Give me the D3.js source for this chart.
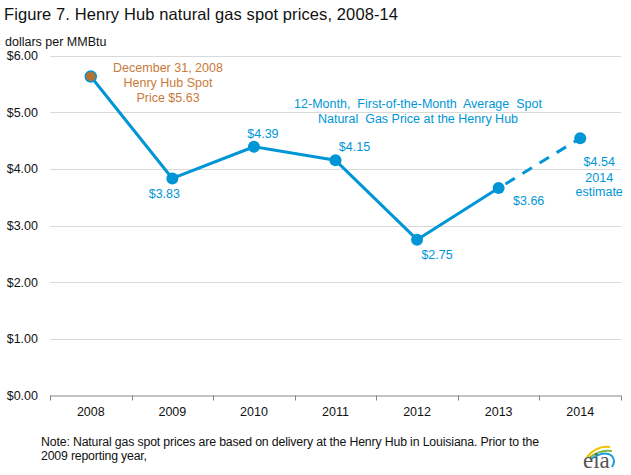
<!DOCTYPE html>
<html>
<head>
<meta charset="utf-8">
<script src="https://cdn.jsdelivr.net/npm/d3@7/dist/d3.min.js"></script>
<style>
  html, body { margin: 0; padding: 0; background: #fff; }
  svg { display: block; font-family: "Liberation Sans", Arial, sans-serif; }
</style>
</head>
<body>
<svg id="chart" width="631" height="475"></svg>
<script>
// ---- data ----
const years = ["2008", "2009", "2010", "2011", "2012", "2013", "2014"];
const prices = [5.63, 3.83, 4.39, 4.15, 2.75, 3.66, 4.54];
const priceLabels = ["", "$3.83", "$4.39", "$4.15", "$2.75", "$3.66", "$4.54"];
const yTicks = [0, 1, 2, 3, 4, 5, 6];
const estimateIndex = 6; // 2014 is an estimate

const title = "Figure 7. Henry Hub natural gas spot prices, 2008-14";
const unitLabel = "dollars per MMBtu";
const spotNote = ["December 31, 2008", "Henry Hub Spot", "Price $5.63"];
const seriesNote = ["12-Month,  First-of-the-Month  Average  Spot", "Natural  Gas Price at the Henry Hub"];
const estimateNote = ["2014", "estimate"];
const footnote = ["Note: Natural gas spot prices are based on delivery at the Henry Hub in Louisiana. Prior to the", "2009 reporting year,"];

// ---- layout ----
const svg = d3.select("#chart");
const mLeft = 50, mRight = 621, mTop = 55.5, mBottom = 395.5;
const blue = "#0096d6", orange = "#c97a3a", dotOrange = "#b8712f";

const x = d3.scaleBand().domain(years).range([mLeft, mRight]).paddingInner(0).paddingOuter(0);
const y = d3.scaleLinear().domain([0, 6]).range([mBottom, mTop]);
const cx = d => x(d) + x.bandwidth() / 2;

// title
svg.append("text").attr("x", 4).attr("y", 20).attr("font-size", 16.5).attr("fill", "#111")
  .attr("letter-spacing", 0.1).text(title);
svg.append("text").attr("x", 5).attr("y", 46).attr("font-size", 12.5).attr("fill", "#111").text(unitLabel);

// gridlines
svg.append("g").selectAll("line").data(yTicks.filter(d => d > 0)).join("line")
  .attr("x1", mLeft).attr("x2", mRight)
  .attr("y1", d => Math.round(y(d)) + 0.5).attr("y2", d => Math.round(y(d)) + 0.5)
  .attr("stroke", "#d9d9d9").attr("stroke-width", 1);

// y labels
svg.append("g").selectAll("text").data(yTicks).join("text")
  .attr("x", 38).attr("y", d => y(d)).attr("dy", "0.36em")
  .attr("text-anchor", "end").attr("font-size", 12.5).attr("fill", "#111")
  .text(d => "$" + d.toFixed(2));

// x axis
const xAxis = d3.axisBottom(x).tickSize(0).tickFormat(d => d);
const gx = svg.append("g").attr("transform", `translate(0,${mBottom})`).call(xAxis);
gx.select(".domain").attr("stroke", "#868686").attr("d", `M${mLeft},0.5H${mRight}`);
gx.selectAll(".tick text").attr("font-size", 12.5).attr("fill", "#111")
  .attr("font-family", '"Liberation Sans", Arial, sans-serif').attr("y", 12).attr("dy", "0.71em");
// boundary ticks
const bounds = years.map(d => x(d)).concat([mRight]);
gx.append("g").selectAll("line").data(bounds).join("line")
  .attr("x1", d => Math.round(d) + 0.5).attr("x2", d => Math.round(d) + 0.5)
  .attr("y1", 0).attr("y2", 5).attr("stroke", "#868686");

// lines
const pts = years.map((yr, i) => ({ yr, v: prices[i], i }));
const line = d3.line().x(d => cx(d.yr)).y(d => y(d.v));
svg.append("path").datum(pts.slice(0, estimateIndex))
  .attr("d", line).attr("fill", "none").attr("stroke", blue).attr("stroke-width", 3)
  .attr("stroke-linejoin", "round");
svg.append("path").datum(pts.slice(estimateIndex - 1))
  .attr("d", line).attr("fill", "none").attr("stroke", blue).attr("stroke-width", 3)
  .attr("stroke-dasharray", "11,9").attr("stroke-dashoffset", -8);

// dots
svg.append("g").selectAll("circle").data(pts).join("circle")
  .attr("cx", d => cx(d.yr)).attr("cy", d => y(d.v)).attr("r", d => d.i === 0 ? 5.5 : 6)
  .attr("fill", d => d.i === 0 ? dotOrange : blue)
  .attr("stroke", blue).attr("stroke-width", d => d.i === 0 ? 1.5 : 0);

// value labels
const labelOffsets = [null, [-8, 20], [9, -9], [19, -9.5], [20, 19.5], [30, 17], [19, 28]];
svg.append("g").selectAll("text").data(pts.filter(d => priceLabels[d.i])).join("text")
  .attr("x", d => cx(d.yr) + labelOffsets[d.i][0])
  .attr("y", d => y(d.v) + labelOffsets[d.i][1])
  .attr("text-anchor", "middle").attr("font-size", 12.5).attr("fill", blue)
  .text(d => priceLabels[d.i]);

// estimate note
svg.append("g").selectAll("text").data(estimateNote).join("text")
  .attr("x", cx(years[estimateIndex]) + 19).attr("y", (d, i) => y(prices[estimateIndex]) + 44 + i * 14)
  .attr("text-anchor", "middle").attr("font-size", 12.5).attr("fill", blue).text(d => d);

// spot note
svg.append("g").selectAll("text").data(spotNote).join("text")
  .attr("x", 168).attr("y", (d, i) => 72 + i * 15)
  .attr("text-anchor", "middle").attr("font-size", 12.5).attr("fill", orange)
  .style("white-space", "pre").attr("xml:space", "preserve").text(d => d);

// series note
svg.append("g").selectAll("text").data(seriesNote).join("text")
  .attr("x", 418).attr("y", (d, i) => 108 + i * 15)
  .attr("text-anchor", "middle").attr("font-size", 12.5).attr("fill", blue)
  .style("white-space", "pre").attr("xml:space", "preserve").text(d => d);

// footnote
const footWidths = [498, 106];
svg.append("g").selectAll("text").data(footnote).join("text")
  .attr("x", 41).attr("y", (d, i) => 446 + i * 13.5)
  .attr("font-size", 12.3).attr("fill", "#111")
  .attr("textLength", (d, i) => footWidths[i]).attr("lengthAdjust", "spacing")
  .text(d => d);

// eia logo
const logo = svg.append("g");
logo.append("path").attr("d", "M587,457 Q597,445 610,447").attr("fill", "none").attr("stroke", "#f2c200").attr("stroke-width", 2);
logo.append("path").attr("d", "M589,458 Q600,449 612,451").attr("fill", "none").attr("stroke", "#7dbb42").attr("stroke-width", 2);
logo.append("path").attr("d", "M591,459 Q605,450 612,456 Q616,461 612,467").attr("fill", "none").attr("stroke", "#1a9ad6").attr("stroke-width", 2);
logo.append("text").attr("x", 583).attr("y", 468).attr("font-family", '"Liberation Serif", "DejaVu Serif", serif')
  .attr("font-size", 23).attr("fill", "#555").text("eia");
</script>
</body>
</html>
